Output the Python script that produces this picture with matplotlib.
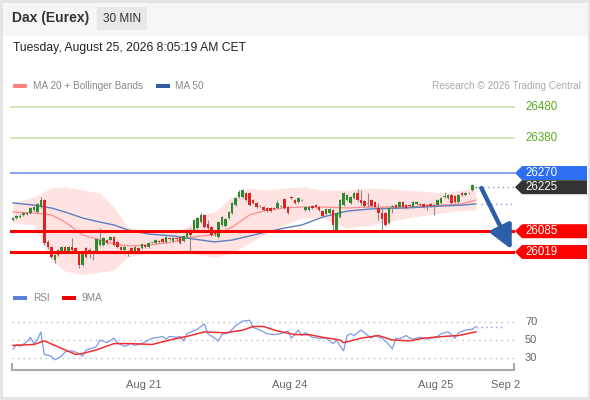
import matplotlib
matplotlib.use("Agg")
import matplotlib.pyplot as plt
import matplotlib.transforms as mtransforms
from matplotlib.patches import Polygon, Rectangle

plt.rcParams["font.family"] = ["Liberation Sans", "DejaVu Sans"]

W, H = 590, 400

# ---- candles (30 min bars) ----
opens = [26121, 26127, 26132, 26137, 26143, 26143, 26152, 26146, 26162, 26184,
         26051, 26035, 25993, 26009, 26019, 26035, 26019, 26035, 26032, 26019,
         25978, 26032, 26025, 26013, 26019, 26041, 26041, 26057, 26057, 26067,
         26051, 26035, 26025, 26022, 26032, 26022, 26032, 26032, 26041, 26035,
         26051, 26048, 26054, 26060, 26051, 26063, 26054, 26063, 26067, 26054,
         26067, 26089, 26089, 26095, 26114, 26137, 26108, 26098, 26083, 26067,
         26105, 26102, 26127, 26143, 26168, 26194, 26194, 26207, 26207, 26184,
         26175, 26165, 26162, 26159, 26159, 26159, 26159, 26165, 26187, 26162,
         26194, 26184, 26178, 26184, 26152, 26152, 26165, 26168, 26162, 26149,
         26140, 26143, 26152, 26089, 26130, 26168, 26184, 26175, 26191, 26207,
         26184, 26181, 26175, 26184, 26178, 26159, 26143, 26143, 26111, 26162,
         26168, 26162, 26178, 26168, 26168, 26162, 26172, 26172, 26172, 26168,
         26172, 26168, 26168, 26175, 26194, 26191, 26200, 26197, 26178, 26207,
         26200, 26207, 26216, 26226]
highs = [26130, 26137, 26140, 26146, 26146, 26162, 26165, 26175, 26194, 26187,
         26057, 26038, 26013, 26028, 26038, 26038, 26038, 26063, 26035, 26022,
         26022, 26035, 26032, 26025, 26063, 26095, 26067, 26060, 26070, 26070,
         26054, 26038, 26038, 26025, 26035, 26038, 26035, 26048, 26044, 26051,
         26054, 26060, 26057, 26063, 26070, 26067, 26067, 26067, 26070, 26073,
         26092, 26095, 26124, 26130, 26143, 26140, 26121, 26102, 26086, 26117,
         26133, 26127, 26149, 26178, 26194, 26216, 26219, 26210, 26210, 26187,
         26178, 26168, 26165, 26162, 26162, 26162, 26184, 26168, 26191, 26165,
         26197, 26187, 26194, 26187, 26165, 26165, 26168, 26172, 26165, 26152,
         26159, 26159, 26156, 26146, 26187, 26210, 26203, 26197, 26210, 26219,
         26216, 26184, 26207, 26187, 26181, 26175, 26162, 26146, 26162, 26168,
         26172, 26181, 26181, 26172, 26172, 26181, 26181, 26175, 26175, 26172,
         26175, 26172, 26187, 26194, 26210, 26203, 26203, 26200, 26203, 26210,
         26210, 26210, 26235, 26229]
lows = [26117, 26124, 26127, 26133, 26137, 26140, 26149, 26143, 26159, 26041,
        26028, 26000, 25984, 26006, 26016, 26019, 26016, 26016, 26016, 25968,
        25974, 26000, 26000, 25993, 26016, 26038, 26038, 26044, 26054, 26038,
        26032, 26022, 26022, 26006, 26016, 26019, 26019, 26028, 26032, 26032,
        26048, 26044, 26048, 26048, 26048, 26057, 26051, 26054, 26044, 26051,
        26063, 26019, 26086, 26092, 26111, 26095, 26089, 26070, 26070, 26063,
        26102, 26098, 26124, 26140, 26165, 26191, 26191, 26181, 26165, 26172,
        26159, 26162, 26149, 26146, 26146, 26152, 26156, 26162, 26156, 26140,
        26187, 26172, 26175, 26181, 26149, 26149, 26156, 26159, 26149, 26130,
        26137, 26140, 26089, 26083, 26127, 26165, 26181, 26172, 26187, 26181,
        26168, 26162, 26162, 26162, 26159, 26121, 26089, 26102, 26108, 26143,
        26156, 26159, 26159, 26156, 26162, 26159, 26168, 26165, 26159, 26152,
        26162, 26137, 26165, 26172, 26191, 26187, 26172, 26175, 26175, 26197,
        26197, 26203, 26213, 26222]
closes = [26127, 26133, 26134, 26143, 26140, 26159, 26162, 26172, 26184, 26048,
          26035, 26003, 26009, 26025, 26035, 26022, 26035, 26025, 26019, 25978,
          26019, 26003, 26022, 26019, 26060, 26057, 26063, 26048, 26067, 26041,
          26035, 26025, 26035, 26016, 26019, 26035, 26022, 26044, 26035, 26048,
          26050, 26057, 26051, 26051, 26067, 26060, 26063, 26060, 26048, 26070,
          26089, 26073, 26121, 26127, 26137, 26098, 26095, 26073, 26076, 26114,
          26130, 26124, 26146, 26175, 26191, 26210, 26216, 26184, 26168, 26175,
          26162, 26164, 26152, 26149, 26149, 26156, 26175, 26164, 26159, 26143,
          26191, 26175, 26191, 26183, 26162, 26162, 26159, 26162, 26152, 26133,
          26156, 26156, 26105, 26143, 26184, 26207, 26200, 26194, 26207, 26184,
          26175, 26165, 26174, 26165, 26162, 26143, 26124, 26105, 26159, 26165,
          26159, 26178, 26162, 26159, 26165, 26178, 26178, 26168, 26162, 26165,
          26165, 26165, 26184, 26191, 26197, 26200, 26175, 26178, 26200, 26200,
          26207, 26206, 26232, 26225]

# ---- indicators, sampled at candle indices ----
band_idx = [0, 6, 11, 15, 20, 25, 29, 33, 39, 46, 50, 54, 58, 63, 68, 73, 78,
            83, 89, 96, 103, 113, 123, 129, 133]
bb_upper = [26175, 26194, 26222, 26226, 26216, 26207, 26162, 26098, 26083, 26083,
            26098, 26137, 26146, 26194, 26222, 26216, 26222, 26226, 26216, 26216,
            26222, 26216, 26207, 26216, 26226]
bb_lower = [26111, 26105, 25993, 25958, 25948, 25955, 25962, 26003, 26016, 26025,
            26019, 26009, 26003, 26016, 26048, 26079, 26105, 26127, 26127, 26095,
            26105, 26127, 26143, 26152, 26152]
ma20 = [26146, 26143, 26137, 26114, 26073, 26057, 26044, 26038, 26041, 26051,
        26063, 26070, 26073, 26098, 26137, 26152, 26159, 26162, 26162, 26159,
        26162, 26162, 26168, 26172, 26184]
ma50 = [26175, 26168, 26159, 26146, 26127, 26114, 26105, 26089, 26076, 26070,
        26063, 26057, 26051, 26057, 26070, 26083, 26095, 26105, 26130, 26149,
        26156, 26159, 26165, 26168, 26172]

rsi_idx = [0, 1, 2, 4, 5, 6, 7, 8, 9, 11, 12, 14, 15, 17, 19, 20, 21, 23, 24, 25,
           27, 29, 30, 32, 34, 35, 37, 38, 40, 42, 43, 44, 45, 47, 48, 49, 50, 53,
           55, 56, 58, 59, 60, 62, 64, 66, 68, 69, 71, 73, 75, 77, 79, 80, 82, 83,
           84, 86, 88, 90, 92, 93, 94, 95, 96, 97, 98, 100, 102, 103, 104, 106,
           108, 109, 110, 111, 113, 114, 115, 117, 119, 120, 122, 123, 125, 126,
           127, 128, 130, 132, 133]
rsi = [40, 45, 43, 48, 53, 46, 50, 59, 34, 32, 28, 32, 37, 38, 35, 32, 39, 41, 43,
       50, 47, 52, 47, 43, 46, 44, 46, 48, 52, 53, 54, 51, 54, 53, 54, 49, 57, 62,
       68, 57, 52, 49, 56, 58, 66, 71, 72, 64, 61, 57, 56, 57, 60, 52, 61, 55, 58,
       53, 52, 52, 46, 50, 43, 38, 55, 57, 55, 61, 55, 52, 55, 52, 45, 40, 52, 51,
       55, 52, 51, 53, 51, 52, 54, 57, 59, 56, 52, 58, 61, 62, 65]
ma9_idx = [0, 6, 9, 12, 18, 20, 24, 29, 34, 40, 45, 50, 55, 61, 66, 69, 72, 76,
           81, 85, 89, 94, 95, 100, 105, 109, 114, 118, 124, 128, 133]
rsi_ma9 = [44, 45, 49, 44, 34, 35, 39, 46, 46, 45, 50, 54, 59, 58, 61, 65, 65, 60,
           56, 56, 53, 50, 47, 52, 55, 50, 49, 52, 54, 55, 59]

resistances = [26480, 26380]
pivot = 26270
last_price = 26225
supports = [26085, 26019]
date_ticks = [37.5, 79.5, 121.5, 141.5]
date_labels = ["Aug 21", "Aug 24", "Aug 25", "Sep 2"]


def fx(px):
    return px / W


def fy(py):
    return 1 - py / H


fig = plt.figure(figsize=(W / 100, H / 100), dpi=100)
fig.patch.set_facecolor("white")

# frame and header strip
fig.add_artist(Rectangle((0, fy(36)), 1, 36 / H, transform=fig.transFigure,
                         facecolor="#f6f6f6", edgecolor="none", zorder=-5))
fig.add_artist(Rectangle((fx(1), fy(398)), fx(588), 397 / H, transform=fig.transFigure,
                         facecolor="none", edgecolor="#e4e4e4", lw=2, zorder=-4))
fig.text(fx(12), fy(18), "Dax (Eurex)", fontsize=10, fontweight="bold",
         color="#333333", va="center")
fig.add_artist(Rectangle((fx(97), fy(30)), fx(50), 23 / H, transform=fig.transFigure,
                         facecolor="#e8e8e8", edgecolor="none"))
fig.text(fx(122), fy(19), "30 MIN", fontsize=8.5, color="#333333", ha="center", va="center")
fig.text(fx(13), fy(48), "Tuesday, August 25, 2026 8:05:19 AM CET", fontsize=8.7,
         color="#222222", va="center")

# legends
fig.add_artist(Rectangle((fx(13), fy(88)), fx(14), 4 / H, transform=fig.transFigure,
                         facecolor="#ff8080", edgecolor="none"))
fig.text(fx(33), fy(86), "MA 20 + Bollinger Bands", fontsize=7.2, color="#888888", va="center")
fig.add_artist(Rectangle((fx(156), fy(88)), fx(14), 4 / H, transform=fig.transFigure,
                         facecolor="#2f5d9e", edgecolor="none"))
fig.text(fx(175), fy(86), "MA 50", fontsize=7.2, color="#888888", va="center")
fig.text(fx(581), fy(86), "Research \u00a9 2026 Trading Central", fontsize=7.2,
         color="#aaaaaa", ha="right", va="center")
fig.add_artist(Rectangle((fx(13), fy(300)), fx(14), 4 / H, transform=fig.transFigure,
                         facecolor="#5a7fe0", edgecolor="none"))
fig.text(fx(33), fy(298), "RSI", fontsize=7.2, color="#888888", va="center")
fig.add_artist(Rectangle((fx(62), fy(300)), fx(14), 4 / H, transform=fig.transFigure,
                         facecolor="#ee0000", edgecolor="none"))
fig.text(fx(82), fy(298), "9MA", fontsize=7.2, color="#888888", va="center")

# ---- main price panel ----
px_per_pt = 0.3145
top_px, bot_px = 97, 282
ax = fig.add_axes([fx(10), fy(bot_px), fx(505), (bot_px - top_px) / H])
ax.set_xlim(-0.86, 144.25)
ax.set_ylim(26480 - (bot_px - 107) / px_per_pt, 26480 + (107 - top_px) / px_per_pt)
ax.axis("off")

ax.fill_between(band_idx, bb_lower, bb_upper, color="#ffe2e2", lw=0, zorder=1)
ax.plot(band_idx, ma20, color="#ff8c8c", lw=0.9, zorder=2)
ax.plot(band_idx, ma50, color="#5b7fbf", lw=1.0, zorder=2)

for r in resistances:
    ax.axhline(r, color="#c8e4b0", lw=1.2, zorder=1)
ax.axhline(pivot, color="#6d91e3", lw=1.2, zorder=1)
for s in supports:
    ax.axhline(s, color="#ff0000", lw=2.2, zorder=4)

for i, (o, h, l, c) in enumerate(zip(opens, highs, lows, closes)):
    if c - o > 1:
        col = "#2e8a2e"
    elif o - c > 1:
        col = "#e52020"
    else:
        col = "#999999"
    ax.vlines(i, l, h, color="#8a8a8a", lw=0.8, zorder=3)
    lo_b, hi_b = min(o, c), max(o, c)
    if hi_b - lo_b < 3:
        mid = (hi_b + lo_b) / 2
        lo_b, hi_b = mid - 1.5, mid + 1.5
    ax.bar(i, hi_b - lo_b, bottom=lo_b, width=0.72, color=col, lw=0, zorder=3)

n = len(closes)
ax.plot([n - 0.5, 144.25], [last_price, last_price], color="#999999", lw=1,
        ls=(0, (1, 2.5)), zorder=2)
ax.plot([n + 0.5, 144.25], [ma50[-1], ma50[-1]], color="#8aa0c8", lw=1,
        ls=(0, (1, 2.5)), zorder=2)

ax.annotate("", xy=(143.3, 26027), xytext=(134.6, 26222),
            arrowprops=dict(arrowstyle="-|>,head_length=1.0,head_width=0.5",
                            color="#2d5ea8", lw=3.2, mutation_scale=14,
                            shrinkA=0, shrinkB=0),
            zorder=6, annotation_clip=False)

# right-hand price tags
blend = mtransforms.blended_transform_factory(ax.transAxes, ax.transData)
half = 7 / px_per_pt
x0, x1, x2 = 1.0, 1 + 7 / 505, 1 + 72 / 505
for price, col in [(pivot, "#2e6ff2"), (last_price, "#333333"),
                   (supports[0], "#ff0000"), (supports[1], "#ff0000")]:
    poly = Polygon([(x0, price), (x1, price + half), (x2, price + half),
                    (x2, price - half), (x1, price - half)], closed=True,
                   transform=blend, facecolor=col, edgecolor="none", clip_on=False)
    ax.add_patch(poly)
    ax.text(1 + 10 / 505, price, f"{price}", transform=blend, color="white",
            fontsize=8.3, va="center", ha="left", clip_on=False)
for r in resistances:
    ax.text(1 + 10 / 505, r, f"{r}", transform=blend, color="#5aaa1e",
            fontsize=8.3, va="center", ha="left", clip_on=False)

# ---- RSI panel ----
r_top, r_bot = 305, 370
ax2 = fig.add_axes([fx(10), fy(r_bot), fx(505), (r_bot - r_top) / H])
ax2.set_xlim(-0.86, 144.25)
ax2.set_ylim(30 - (r_bot - 358) / 0.9, 70 + (322 - r_top) / 0.9)
for s in ["top", "right", "left"]:
    ax2.spines[s].set_visible(False)
ax2.spines["bottom"].set_color("#aaaaaa")
ax2.spines["bottom"].set_linewidth(1.5)
ax2.spines["bottom"].set_bounds(-0.3, 143.9)
ax2.set_yticks([])
ax2.set_facecolor("none")
for lvl in [70, 50, 30]:
    ax2.plot([-0.3, 144.25], [lvl, lvl], color="#bbbbbb", lw=1, ls=(0, (1, 3)), zorder=1)
    ax2.text(1 + 10 / 505, lvl, str(lvl), transform=mtransforms.blended_transform_factory(
        ax2.transAxes, ax2.transData), fontsize=8, color="#666666", va="center")
ax2.plot(rsi_idx, rsi, color="#7f9ae8", lw=0.9, zorder=3)
ax2.plot(ma9_idx, rsi_ma9, color="#f03030", lw=1.1, zorder=4)
ax2.plot([rsi_idx[-1], 141], [rsi[-1], rsi[-1]], color="#7f9ae8", lw=1,
         ls=(0, (1, 2.5)), zorder=3)
ymin = ax2.get_ylim()[0]
for xe in (-0.3, 143.9):
    ax2.plot([xe, xe], [ymin, ymin + 6 / 0.9], color="#aaaaaa", lw=1.5, clip_on=False)
ax2.set_xticks(date_ticks)
ax2.set_xticklabels(date_labels, fontsize=8, color="#666666")
ax2.tick_params(axis="x", length=0, pad=7)

fig.savefig("out.png", dpi=100)
